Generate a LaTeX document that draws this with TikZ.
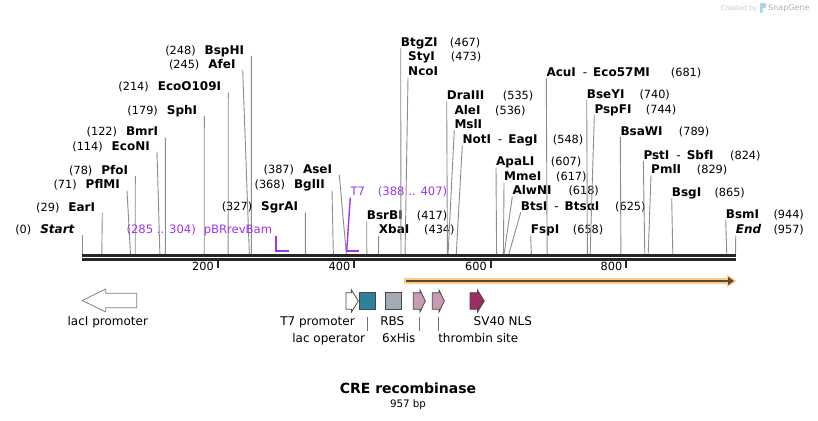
\documentclass[tikz,border=0pt]{standalone}
\usepackage{fontspec}
\setmainfont{DejaVu Sans}
\usepackage{xcolor}
\usepackage{tikz}
\definecolor{cutgray}{HTML}{8C8C8C}
\definecolor{bbdark}{HTML}{262626}
\definecolor{primerpurple}{HTML}{A035F0}
\definecolor{creorange}{HTML}{F9CE84}
\definecolor{crebrown}{HTML}{5A4734}
\definecolor{opteal}{HTML}{2F8199}
\definecolor{rbsgray}{HTML}{A3AAB3}
\definecolor{tagpink}{HTML}{CC99B5}
\definecolor{nlsmagenta}{HTML}{9B2D62}
\definecolor{snapblue}{HTML}{A9D3EE}
\usetikzlibrary{positioning, calc}
\newcommand{\enzfont}{\fontsize{12}{14}\selectfont\bfseries}
\newcommand{\numfont}{\fontsize{11.3}{13}\selectfont\mdseries}
\newcommand{\enzdash}{\hspace{7pt}{\mdseries-}\hspace{6pt}}

\begin{document}
\begin{tikzpicture}[x=1pt, y=-1pt,
    enzl/.style={anchor=south east, inner xsep=7pt, inner ysep=1.6pt, text height=8.8pt, text depth=0pt, font=\enzfont},
    enzr/.style={anchor=south west, inner xsep=0pt, inner ysep=1.6pt, text height=8.8pt, text depth=0pt, font=\enzfont},
    sitenum/.style={anchor=south west, inner xsep=0pt, inner ysep=1.6pt, text height=8.8pt, text depth=0pt, font=\numfont},
    cutline/.style={draw=cutgray, line width=0.9pt},
    primer/.style={draw=primerpurple, line width=1.8pt},
    primerlbl/.style={inner ysep=1.6pt, text height=8.8pt, text depth=0pt, text=primerpurple, font=\fontsize{11.6}{13}\selectfont},
    featlbl/.style={anchor=base, inner sep=0pt, text height=9pt, font=\fontsize{12}{14}\selectfont},
    feattick/.style={draw=black!55, line width=0.8pt},
    featbox/.style={draw=black!72, line width=0.8pt}]
\fill[white] (0,0) rectangle (818,420);
% watermark
\node[anchor=base west, inner sep=0pt, text=black!22, font=\fontsize{6.6}{8}\selectfont] (made) at (720.7,10.5) {Created by};
\fill[snapblue, rounded corners=1pt] (760,3) rectangle (766,8) (760,3) rectangle (762.5,13);
\node[anchor=base west, inner sep=0pt, text=black!30, font=\fontsize{8}{9}\selectfont] (snap) at (768,10.5) {SnapGene};
% Draw backbone
\draw[bbdark, line width=2.6pt] (82,255.3) -- (735.7,255.3);
\draw[bbdark, line width=2.6pt] (82,259.4) -- (735.7,259.4);
\foreach \x/\lab in {217.5/200, 354/400, 490.5/600, 626/800} {
    \draw[bbdark, line width=2pt] (\x,260) -- (\x,267.5);
    \node[anchor=base east, inner sep=0pt, font=\numfont] (tick\lab) at (\x-3.5,270.8) {\lab};
}
% enzymes cutting left of their labels
\foreach \tx/\ly/\bp/\nm [count=\i] in {82/235/0/{\textit{Start}}, 102.3/213/29/EarI,
    127/190.7/71/PflMI, 135.3/176/78/PfoI, 157/152/114/EcoNI, 165.3/137.7/122/BmrI,
    204.3/116/179/SphI, 228.3/92.7/214/EcoO109I, 242.7/70/245/AfeI, 251.3/56/248/BspHI,
    305.3/212.7/327/SgrAI, 332/190.7/368/BglII, 339.3/175/387/AseI} {
    \node[enzl] (L\i) at (\tx,\ly) {{\numfont(\bp)}\hspace{9pt}\nm};
    \draw[cutline] (L\i.south east) -- ({82+0.683*\bp},254);
}
% enzymes cutting right of their labels
\foreach \tx/\ly/\bp/\nm/\nx [count=\i] in {366.7/221/417/BsrBI/416.7, 378.7/235.7/434/XbaI/424,
    400.7/48.3/467/BtgZI/449.7, 446.7/101/535/DraIII/502.7, 462.3/145/548/{NotI\enzdash EagI}/552.7,
    496/167.3/607/ApaLI/550.7, 504/182.7/617/MmeI/556, 512.3/196.7/618/AlwNI/568.3,
    520.7/212.3/625/{BtsI\enzdash BtsαI}/615, 530.7/235.7/658/FspI/572.7,
    546.3/78.3/681/{AcuI\enzdash Eco57MI}/670.7, 586.7/100/740/BseYI/639.3,
    594.3/115/744/PspFI/645.7, 620.3/137/789/BsaWI/678.7, 643.3/161/824/{PstI\enzdash SbfI}/730,
    651/175.3/829/PmlI/696.7, 671.7/198.3/865/BsgI/714.3, 725.7/220/944/BsmI/773.3,
    735.7/235.7/957/{\textit{End}}/773.3} {
    \node[enzr] (R\i) at (\tx,\ly) {\nm};
    \node[sitenum] (N\i) at (\nx,\ly) {(\bp)};
    \draw[cutline] (R\i.south west) -- ({82+0.683*\bp},254);
}
% shared sites
\node[enzr] (styI) at (408,62.7) {StyI};
\node[sitenum] (styInum) at (450.7,62.7) {(473)};
\node[enzr] (ncoI) at (408,77.7) {NcoI};
\draw[cutline] (ncoI.south west) -- ({82+0.683*473},254);
\node[enzr] (aleI) at (454.3,116) {AleI};
\node[sitenum] (aleInum) at (495,116) {(536)};
\node[enzr] (mslI) at (454.3,129.8) {MslI};
\draw[cutline] (mslI.south west) -- ({82+0.683*536},254);
% primers
\node[primerlbl, anchor=south east, inner xsep=3.4pt] (pbr) at (275.7,235.5) {(285 .. 304)\hspace{8pt}pBRrevBam};
\draw[primer] (pbr.south east) -- (275.7,250.7) -- (289.3,250.7);
\node[primerlbl, anchor=south west, inner xsep=0pt] (t7p) at (350.3,197.5) {T7\hspace{13pt}(388 .. 407)};
\draw[primer, line width=1.4pt] (t7p.south west) -- (346.7,250.7);
\draw[primer] (345.8,250.7) -- (359,250.7);
% CRE recombinase
\draw[creorange, line width=6pt] (404,281) -- (728,281);
\fill[creorange] (727,274.5) -- (736.5,281) -- (727,287.5) -- cycle;
\draw[crebrown, line width=2.5pt] (405.5,281) -- (729,281);
\fill[crebrown] (728,276.8) -- (733.8,281) -- (728,285.2) -- cycle;
% features
\draw[draw=black!50, line width=0.8pt, fill=white] (82.3,300.5) -- (105.7,289) -- (105.7,293.3) -- (136.7,293.3)
    -- (136.7,307.7) -- (105.7,307.7) -- (105.7,312) -- cycle;
\foreach \xa/\xb/\xt/\col in {346/351.5/358.3/white, 413.3/420/425.3/tagpink,
    432.3/439/444.3/tagpink, 470/477.5/484.3/nlsmagenta} {
    \draw[featbox, fill=\col] (\xa,292.7) -- (\xb,292.7) -- (\xb,290) -- (\xt,301) -- (\xb,312)
        -- (\xb,309.3) -- (\xa,309.3) -- cycle;
}
\node[featbox, fill=opteal, minimum width=16.4pt, minimum height=16.6pt, inner sep=0pt] (opbox) at (367.5,301) {};
\node[featbox, fill=rbsgray, minimum width=16.7pt, minimum height=16.6pt, inner sep=0pt] (rbsbox) at (393.3,301) {};
\coordinate (his) at (419.3,309.3);
\coordinate (thr) at (438.7,309.3);
\node[featlbl] (laci) at (107.8,325) {lacI promoter};
\node[featlbl] (t7pr) at (317.5,325) {T7 promoter};
\node[featlbl] (rbs) at (392.3,325) {RBS};
\node[featlbl] (nls) at (502.8,325) {SV40 NLS};
\node[featlbl] (laco) at (328.7,342) {lac operator};
\node[featlbl] (hisl) at (398.8,342) {6xHis};
\node[featlbl] (thrl) at (478.3,342) {thrombin site};
\draw[feattick] ([yshift=-7.4pt]opbox.south) -- ++(0,14.3);
\draw[feattick] ([yshift=-7.4pt]his) -- ++(0,14.3);
\draw[feattick] ([yshift=-7.4pt]thr) -- ++(0,14.3);
% title
\node[anchor=base, inner sep=0pt, font=\fontsize{14}{16}\selectfont\bfseries] (title) at (408,393) {CRE recombinase};
\node[anchor=base, inner sep=0pt, font=\fontsize{10.3}{12}\selectfont] (len) at (408,407.5) {957 bp};
\end{tikzpicture}
\end{document}
